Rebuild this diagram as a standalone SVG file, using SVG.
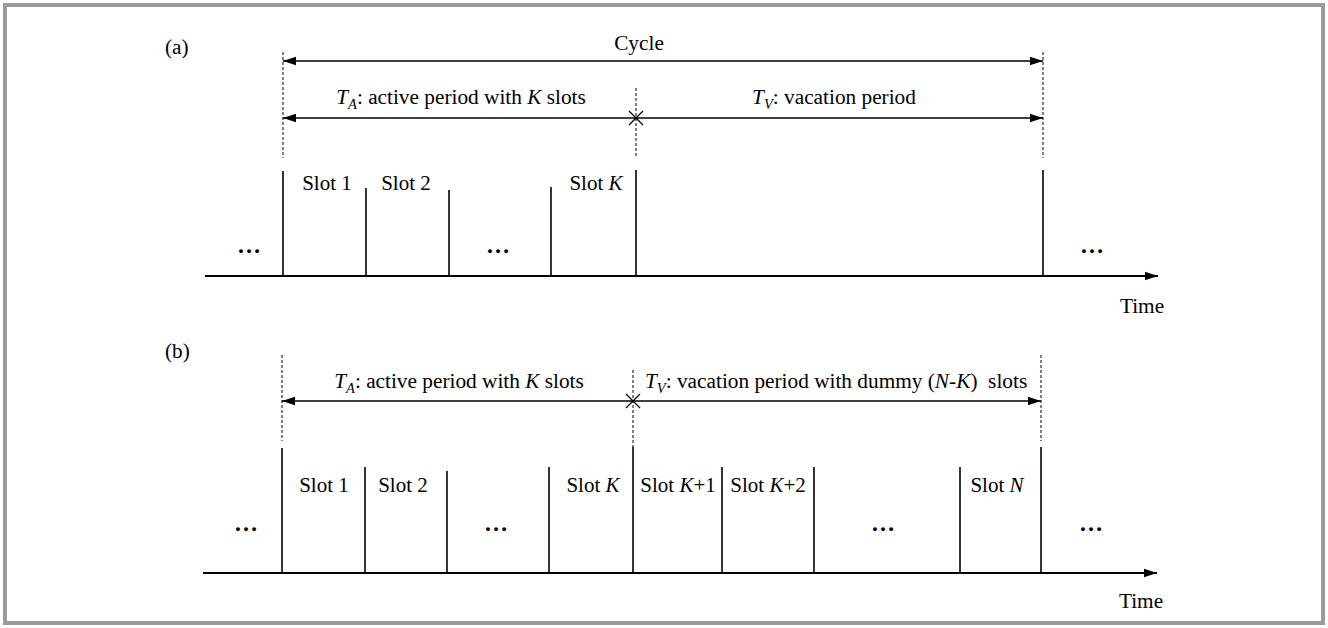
<svg xmlns="http://www.w3.org/2000/svg" width="1328" height="628" viewBox="0 0 1328 628">
<style>
text{font-family:"Liberation Serif","Times New Roman",serif;fill:#000;}
.t{font-size:21.3px;}
.lbl{font-size:21px;}
.dots{font-size:24px;font-weight:bold;}
.sub{font-size:14.5px;font-style:italic;}
.i{font-style:italic;}
.dash{stroke:#000;stroke-width:1;stroke-dasharray:3 2;fill:none;}
.slot{stroke:#000;stroke-width:1.6;fill:none;}
.axis{stroke:#000;stroke-width:2;fill:none;}
.arr{stroke:#000;stroke-width:1.6;fill:none;}
.x{stroke:#000;stroke-width:1.3;fill:none;}
</style>
<defs>
<marker id="ah" viewBox="0 0 13 10" refX="13" refY="5" markerWidth="13" markerHeight="10" markerUnits="userSpaceOnUse" orient="auto-start-reverse"><path d="M0,0.8 L13,5 L0,9.2 z" fill="#000"/></marker>
</defs>
<rect x="5" y="5" width="1318" height="618" fill="#fff" stroke="#9a9a9a" stroke-width="4"/>

<g id="panel-a">
<text class="t" x="165" y="54">(a)</text>
<g id="a-guides">
<line class="dash" x1="283" y1="52" x2="283" y2="158"/>
<line class="dash" x1="1043" y1="52" x2="1043" y2="158"/>
<line class="dash" x1="636" y1="88" x2="636" y2="158"/>
</g>
<g id="a-connectors">
<line class="arr" x1="283" y1="61" x2="1043" y2="61" marker-start="url(#ah)" marker-end="url(#ah)"/>
<line class="arr" x1="283" y1="118" x2="636" y2="118" marker-start="url(#ah)"/>
<line class="arr" x1="636" y1="118" x2="1043" y2="118" marker-end="url(#ah)"/>
<path class="x" d="M629,111 L643,125 M629,125 L643,111"/>
<line class="axis" x1="205" y1="276" x2="1158" y2="276" marker-end="url(#ah)"/>
</g>
<text class="t" x="639" y="50" text-anchor="middle">Cycle</text>
<text class="t" x="461" y="104" text-anchor="middle"><tspan class="i">T</tspan><tspan class="sub" dy="5">A</tspan><tspan dy="-5">: active period with </tspan><tspan class="i">K</tspan> slots</text>
<text class="t" x="834" y="104" text-anchor="middle"><tspan class="i">T</tspan><tspan class="sub" dy="5">V</tspan><tspan dy="-5">: vacation period</tspan></text>
<g id="a-slots">
<line class="slot" x1="283" y1="171" x2="283" y2="276"/>
<line class="slot" x1="366" y1="188" x2="366" y2="276"/>
<line class="slot" x1="449" y1="190" x2="449" y2="276"/>
<line class="slot" x1="551" y1="187" x2="551" y2="276"/>
<line class="slot" x1="636" y1="170" x2="636" y2="276"/>
<line class="slot" x1="1043" y1="170" x2="1043" y2="276"/>
</g>
<text class="lbl" x="327" y="190" text-anchor="middle">Slot 1</text>
<text class="lbl" x="406" y="190" text-anchor="middle">Slot 2</text>
<text class="lbl" x="596" y="190" text-anchor="middle">Slot <tspan class="i">K</tspan></text>
<text class="dots" x="249" y="253" text-anchor="middle">…</text>
<text class="dots" x="498" y="253" text-anchor="middle">…</text>
<text class="dots" x="1092" y="253" text-anchor="middle">…</text>
<text class="t" x="1142" y="313" text-anchor="middle">Time</text>
</g>

<g id="panel-b">
<text class="t" x="165" y="358">(b)</text>
<g id="b-guides">
<line class="dash" x1="282" y1="355" x2="282" y2="441"/>
<line class="dash" x1="1041" y1="355" x2="1041" y2="441"/>
<line class="dash" x1="633" y1="370" x2="633" y2="447"/>
</g>
<g id="b-connectors">
<line class="arr" x1="282" y1="401" x2="633" y2="401" marker-start="url(#ah)"/>
<line class="arr" x1="633" y1="401" x2="1041" y2="401" marker-end="url(#ah)"/>
<path class="x" d="M626,394 L640,408 M626,408 L640,394"/>
<line class="axis" x1="203" y1="573" x2="1157" y2="573" marker-end="url(#ah)"/>
</g>
<text class="t" x="459" y="388" text-anchor="middle"><tspan class="i">T</tspan><tspan class="sub" dy="5">A</tspan><tspan dy="-5">: active period with </tspan><tspan class="i">K</tspan> slots</text>
<text class="t" x="645" y="388" xml:space="preserve"><tspan class="i">T</tspan><tspan class="sub" dy="5">V</tspan><tspan dy="-5">: vacation period with dummy (</tspan><tspan class="i">N</tspan>-<tspan class="i">K</tspan>)  slots</text>
<g id="b-slots">
<line class="slot" x1="282" y1="448" x2="282" y2="573"/>
<line class="slot" x1="365" y1="467" x2="365" y2="573"/>
<line class="slot" x1="447" y1="471" x2="447" y2="573"/>
<line class="slot" x1="549" y1="467" x2="549" y2="573"/>
<line class="slot" x1="633" y1="447" x2="633" y2="573"/>
<line class="slot" x1="722" y1="467" x2="722" y2="573"/>
<line class="slot" x1="814" y1="467" x2="814" y2="573"/>
<line class="slot" x1="960" y1="467" x2="960" y2="573"/>
<line class="slot" x1="1041" y1="447" x2="1041" y2="573"/>
</g>
<text class="lbl" x="324" y="492" text-anchor="middle">Slot 1</text>
<text class="lbl" x="403" y="492" text-anchor="middle">Slot 2</text>
<text class="lbl" x="593" y="492" text-anchor="middle">Slot <tspan class="i">K</tspan></text>
<text class="lbl" x="678" y="492" text-anchor="middle">Slot <tspan class="i">K</tspan>+1</text>
<text class="lbl" x="768" y="492" text-anchor="middle">Slot <tspan class="i">K</tspan>+2</text>
<text class="lbl" x="997" y="492" text-anchor="middle">Slot <tspan class="i">N</tspan></text>
<text class="dots" x="246" y="531" text-anchor="middle">…</text>
<text class="dots" x="496" y="531" text-anchor="middle">…</text>
<text class="dots" x="883" y="531" text-anchor="middle">…</text>
<text class="dots" x="1091" y="531" text-anchor="middle">…</text>
<text class="t" x="1141" y="608" text-anchor="middle">Time</text>
</g>
</svg>
